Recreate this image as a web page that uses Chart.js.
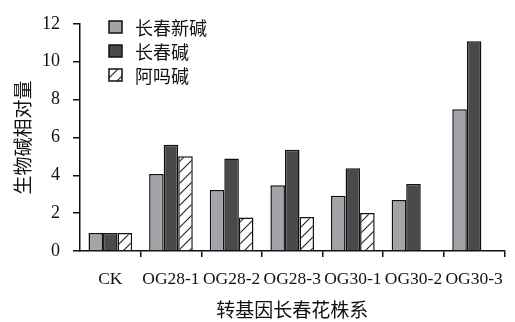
<!DOCTYPE html>
<html>
<head>
<meta charset="utf-8">
<script src="https://cdn.jsdelivr.net/npm/chart.js@4/dist/chart.umd.min.js"></script>
<style>
  body { margin: 0; background: #fff; }
  #wrap { width: 515px; height: 322px; }
</style>
</head>
<body>
<div id="wrap"><canvas id="alkChart"></canvas></div>
<script>
// categories and values
var lines = ['CK', 'OG28-1', 'OG28-2', 'OG28-3', 'OG30-1', 'OG30-2', 'OG30-3'];
var vincristine = [0.95, 4.07, 3.22, 3.47, 2.92, 2.70, 7.49];
var vinblastine = [0.95, 5.61, 4.89, 5.35, 4.37, 3.54, 11.08];
var ajmalicine = [0.95, 5.01, 1.77, 1.79, 2.01, null, null];
var seriesNames = ['长春新碱', '长春碱', '阿吗碱'];
var yTicks = [0, 2, 4, 6, 8, 10, 12];

var serif = "'Liberation Serif', 'Times New Roman', serif";
var cjk = "'Noto Sans CJK SC', sans-serif";

// diagonal hatch for the third series
function makeHatch() {
    var n = 11;
    var c = document.createElement('canvas');
    c.width = n;
    c.height = n;
    var g = c.getContext('2d');
    g.fillStyle = '#fff';
    g.fillRect(0, 0, n, n);
    g.strokeStyle = '#222';
    g.lineWidth = 1.1;
    g.beginPath();
    g.moveTo(0, n); g.lineTo(n, 0);
    g.moveTo(-2, 2); g.lineTo(2, -2);
    g.moveTo(n - 2, n + 2); g.lineTo(n + 2, n - 2);
    g.stroke();
    return g.createPattern(c, 'repeat');
}

var ctx = document.getElementById('alkChart').getContext('2d');
var hatch = makeHatch();

// legend drawn inside the plot, top left
var boxLegend = {
    id: 'boxLegend',
    afterDraw: function(chart) {
        var g = chart.ctx;
        g.save();
        chart.data.datasets.forEach(function(ds, i) {
            var x = 109, y = 21 + i * 24;
            g.fillStyle = ds.backgroundColor;
            g.fillRect(x, y, 13, 12);
            g.strokeStyle = '#111';
            g.lineWidth = 1.5;
            g.strokeRect(x, y, 13, 12);
            g.fillStyle = '#111';
            g.font = '18px ' + cjk;
            g.textBaseline = 'middle';
            g.fillText(ds.label, 135, y + 7);
        });
        g.restore();
    }
};

function hideEnds(c) {
    return (c.index === 0 || c.index >= lines.length) ? 'rgba(0,0,0,0)' : '#111';
}

var chart = new Chart(ctx, {
    type: 'bar',
    data: {
        labels: lines,
        datasets: [{
            label: seriesNames[0],
            data: vincristine,
            backgroundColor: '#a4a3a9',
            borderColor: '#111',
            borderWidth: 1.5
        }, {
            label: seriesNames[1],
            data: vinblastine,
            backgroundColor: '#4a4a4a',
            borderColor: '#111',
            borderWidth: 1.5
        }, {
            label: seriesNames[2],
            data: ajmalicine,
            backgroundColor: hatch,
            borderColor: '#111',
            borderWidth: 1.5
        }]
    },
    options: {
        responsive: true,
        maintainAspectRatio: false,
        animation: false,
        layout: { padding: { top: 17, right: 3, left: 0, bottom: 0 } },
        datasets: { bar: { categoryPercentage: 0.72, barPercentage: 1.0 } },
        plugins: {
            legend: { display: false },
            tooltip: { enabled: false }
        },
        scales: {
            x: {
                grid: { drawOnChartArea: false, tickLength: 6, color: hideEnds, lineWidth: 1.5 },
                border: { color: '#111', width: 1.5 },
                ticks: { color: '#111', padding: 12, maxRotation: 0, autoSkip: false, font: { family: serif, size: 17.5 } },
                title: { display: true, text: '转基因长春花株系', color: '#111', padding: { top: 1, bottom: 1 }, font: { family: cjk, size: 19 } },
                afterFit: function(s) { s.height = 71; }
            },
            y: {
                min: 0,
                max: 12,
                afterBuildTicks: function(s) { s.ticks = yTicks.map(function(v) { return { value: v }; }); },
                grid: { drawOnChartArea: false, tickLength: 7, color: '#111', lineWidth: 1.5 },
                border: { color: '#111', width: 1.5 },
                ticks: { color: '#111', padding: 13, font: { family: serif, size: 18 } },
                title: { display: true, text: '生物碱相对量', color: '#111', padding: { top: 11, bottom: 11 }, font: { family: cjk, size: 19 } },
                afterFit: function(s) { s.width = 80; }
            }
        }
    },
    plugins: [boxLegend]
});
</script>
</body>
</html>
